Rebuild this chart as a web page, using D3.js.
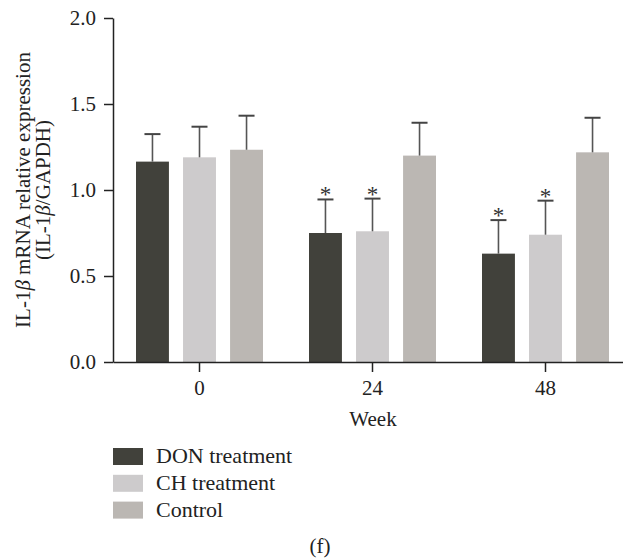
<!DOCTYPE html>
<html>
<head>
<meta charset="utf-8">
<script src="https://cdn.jsdelivr.net/npm/d3@7"></script>
<style>
  body { margin: 0; background: #fff; }
  text { font-family: "Liberation Serif", "DejaVu Serif", serif; fill: #222; }
</style>
</head>
<body>
<div id="chart"></div>
<script>
const weeks = ['0', '24', '48'];
const seriesNames = ['DON treatment', 'CH treatment', 'Control'];
const donMeans = [1.165, 0.75, 0.63];
const donErrors = [0.16, 0.195, 0.195];
const chMeans = [1.19, 0.76, 0.74];
const chErrors = [0.178, 0.19, 0.198];
const controlMeans = [1.234, 1.2, 1.219];
const controlErrors = [0.198, 0.191, 0.201];
const starred = [[false, true, true], [false, true, true], [false, false, false]];
const yTicks = [0, 0.5, 1.0, 1.5, 2.0];

const colors = ['#41413b', '#cdcbcc', '#bbb7b3'];

const width = 623;
const height = 559;

const series = [
  { name: seriesNames[0], means: donMeans, errors: donErrors },
  { name: seriesNames[1], means: chMeans, errors: chErrors },
  { name: seriesNames[2], means: controlMeans, errors: controlErrors }
];

const svg = d3.select('#chart')
  .append('svg')
  .attr('width', width)
  .attr('height', height);

const xScale = d3.scaleBand()
  .domain(weeks)
  .range([113, 632])
  .padding(0);

const innerScale = d3.scaleBand()
  .domain(seriesNames)
  .range([23, 150])
  .paddingInner(0.3);

const yScale = d3.scaleLinear()
  .domain([0, 2])
  .range([362, 18]);

// bars
const rows = [];
series.forEach((s, si) => {
  weeks.forEach((w, wi) => {
    rows.push({ week: w, name: s.name, si: si, mean: s.means[wi], err: s.errors[wi], star: starred[si][wi] });
  });
});

const barX = (d) => xScale(d.week) + innerScale(d.name);
const barMid = (d) => barX(d) + innerScale.bandwidth() / 2;

svg.selectAll('.bar')
  .data(rows)
  .enter()
  .append('rect')
  .attr('class', 'bar')
  .attr('x', barX)
  .attr('y', (d) => yScale(d.mean))
  .attr('width', innerScale.bandwidth())
  .attr('height', (d) => yScale(0) - yScale(d.mean))
  .style('fill', (d) => colors[d.si]);

// error bars (upper only)
svg.selectAll('.err')
  .data(rows)
  .enter()
  .append('line')
  .attr('x1', barMid)
  .attr('x2', barMid)
  .attr('y1', (d) => yScale(d.mean))
  .attr('y2', (d) => yScale(d.mean + d.err))
  .style('stroke', '#555')
  .style('stroke-width', 1.6);

svg.selectAll('.cap')
  .data(rows)
  .enter()
  .append('line')
  .attr('x1', (d) => barMid(d) - 8)
  .attr('x2', (d) => barMid(d) + 8)
  .attr('y1', (d) => yScale(d.mean + d.err))
  .attr('y2', (d) => yScale(d.mean + d.err))
  .style('stroke', '#444')
  .style('stroke-width', 2);

svg.selectAll('.star')
  .data(rows.filter((d) => d.star))
  .enter()
  .append('text')
  .attr('x', barMid)
  .attr('y', (d) => yScale(d.mean + d.err) + 3)
  .attr('text-anchor', 'middle')
  .style('font-size', '23px')
  .style('fill', '#333')
  .text('*');

// axes
const yAxis = d3.axisLeft(yScale)
  .tickValues(yTicks)
  .tickFormat(d3.format('.1f'))
  .tickSize(9)
  .tickSizeOuter(0)
  .tickPadding(8);

const xAxis = d3.axisBottom(xScale)
  .tickSize(10)
  .tickSizeOuter(0)
  .tickPadding(8);

const gy = svg.append('g')
  .attr('transform', 'translate(113, 0)')
  .call(yAxis);

const gx = svg.append('g')
  .attr('transform', 'translate(0, 362)')
  .call(xAxis);

[gx, gy].forEach((g) => {
  g.select('.domain').style('stroke', '#222').style('stroke-width', 1.5);
  g.selectAll('.tick line').style('stroke', '#222').style('stroke-width', 1.5);
  g.selectAll('.tick text')
    .style('font-family', '"Liberation Serif", serif')
    .style('font-size', '21px')
    .style('fill', '#222');
});

// axis titles
svg.append('text')
  .attr('x', 373)
  .attr('y', 426)
  .attr('text-anchor', 'middle')
  .style('font-size', '21px')
  .text('Week');

const yLabel = svg.append('text')
  .attr('transform', 'translate(30, 190) rotate(-90)')
  .attr('text-anchor', 'middle')
  .style('font-size', '21px');
yLabel.append('tspan').attr('x', 0).attr('dy', 0).text('IL-1');
yLabel.append('tspan').style('font-style', 'italic').text('β');
yLabel.append('tspan').text(' mRNA relative expression');
yLabel.append('tspan').attr('x', 0).attr('dy', 20).text('(IL-1');
yLabel.append('tspan').style('font-style', 'italic').text('β');
yLabel.append('tspan').text('/GAPDH)');

// legend
const legend = svg.append('g');
seriesNames.forEach((name, i) => {
  legend.append('rect')
    .attr('x', 113)
    .attr('y', 448 + i * 26.8)
    .attr('width', 30)
    .attr('height', 17)
    .style('fill', colors[i]);
  legend.append('text')
    .attr('x', 156)
    .attr('y', 463 + i * 26.8)
    .style('font-size', '22px')
    .text(name);
});

svg.append('text')
  .attr('x', 320)
  .attr('y', 553)
  .attr('text-anchor', 'middle')
  .style('font-size', '21px')
  .text('(f)');
</script>
</body>
</html>
